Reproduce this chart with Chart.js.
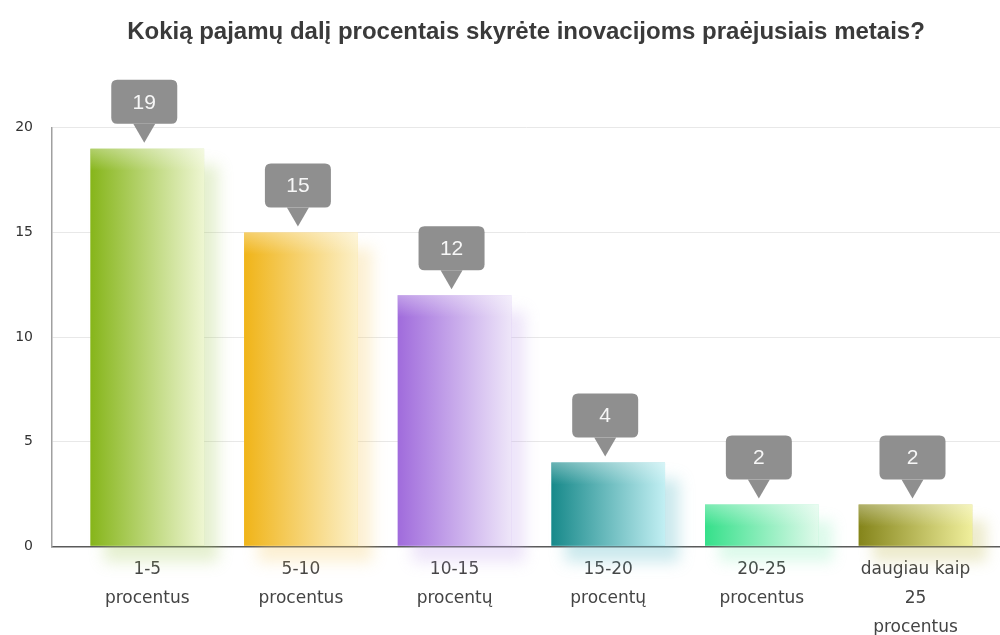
<!DOCTYPE html>
<html>
<head>
<meta charset="utf-8">
<script src="https://cdn.jsdelivr.net/npm/chart.js@4.4.1/dist/chart.umd.min.js"></script>
<style>
  body { margin: 0; background: #fff; }
</style>
</head>
<body>
<canvas id="myChart" width="1000" height="635"></canvas>
<script>
const titleText = "Kokią pajamų dalį procentais skyrėte inovacijoms praėjusiais metais?";
const categories = [
    ["1-5", "procentus"],
    ["5-10", "procentus"],
    ["10-15", "procentų"],
    ["15-20", "procentų"],
    ["20-25", "procentus"],
    ["daugiau kaip", "25", "procentus"]
];
const answers = [19, 15, 12, 4, 2, 2];
const yTicks = [0, 5, 10, 15, 20];

// spalvos: tamsi, šviesi, šešėlis
const palette = [
    ["#86b51a", "#eef6d2", "rgba(170,205,100,0.55)"],
    ["#f0b418", "#fcf0c8", "rgba(245,205,110,0.55)"],
    ["#a06bdc", "#eee6f9", "rgba(195,165,235,0.55)"],
    ["#17898a", "#c2eff3", "rgba(110,195,205,0.6)"],
    ["#35e08a", "#e0faeb", "rgba(120,235,175,0.5)"],
    ["#84841a", "#f0ef9c", "rgba(195,190,90,0.55)"]
];

function roundRect(ctx, x, y, w, h, r) {
    ctx.beginPath();
    ctx.moveTo(x + r, y);
    ctx.lineTo(x + w - r, y);
    ctx.quadraticCurveTo(x + w, y, x + w, y + r);
    ctx.lineTo(x + w, y + h - r);
    ctx.quadraticCurveTo(x + w, y + h, x + w - r, y + h);
    ctx.lineTo(x + r, y + h);
    ctx.quadraticCurveTo(x, y + h, x, y + h - r);
    ctx.lineTo(x, y + r);
    ctx.quadraticCurveTo(x, y, x + r, y);
    ctx.closePath();
}

const barFx = {
    id: "barFx",
    beforeDatasetsDraw(chart) {
        const ctx = chart.ctx;
        chart.getDatasetMeta(0).data.forEach((bar, i) => {
            const p = bar.getProps(["x", "y", "base", "width"], true);
            const left = p.x - p.width / 2;
            const g = ctx.createLinearGradient(left, 0, left + p.width, 0);
            g.addColorStop(0, palette[i][0]);
            g.addColorStop(1, palette[i][1]);
            bar.options.backgroundColor = g;

            // šešėlis už stulpelio
            ctx.save();
            ctx.shadowColor = palette[i][2];
            ctx.shadowBlur = 14;
            ctx.shadowOffsetX = 14;
            ctx.shadowOffsetY = 16;
            ctx.fillStyle = palette[i][2];
            ctx.fillRect(left, p.y, p.width, p.base - p.y);
            ctx.restore();
        });
    },
    afterDatasetsDraw(chart) {
        const ctx = chart.ctx;
        chart.getDatasetMeta(0).data.forEach((bar, i) => {
            const p = bar.getProps(["x", "y", "base", "width"], true);
            const left = p.x - p.width / 2;

            // šviesus viršus
            const h = Math.min(22, p.base - p.y);
            const hl = ctx.createLinearGradient(0, p.y, 0, p.y + h);
            hl.addColorStop(0, "rgba(255,255,255,0.35)");
            hl.addColorStop(1, "rgba(255,255,255,0)");
            ctx.fillStyle = hl;
            ctx.fillRect(left, p.y, p.width, h);

            // reikšmės burbulas
            const bw = 66, bh = 44;
            const tip = p.y - 6;
            const boxBottom = tip - 19;
            ctx.fillStyle = "#8f8f8f";
            roundRect(ctx, p.x - 3 - bw / 2, boxBottom - bh, bw, bh, 6);
            ctx.fill();
            ctx.beginPath();
            ctx.moveTo(p.x - 3 - 11, boxBottom);
            ctx.lineTo(p.x - 3 + 11, boxBottom);
            ctx.lineTo(p.x - 3, tip);
            ctx.closePath();
            ctx.fill();

            ctx.fillStyle = "#f7f7f7";
            ctx.font = "21px 'Liberation Sans'";
            ctx.textAlign = "center";
            ctx.textBaseline = "middle";
            ctx.fillText(String(answers[i]), p.x - 3, boxBottom - bh / 2 + 1);
        });
    }
};

const canvas = document.getElementById("myChart");
const ctx = canvas.getContext("2d");

new Chart(ctx, {
    type: "bar",
    data: {
        datasets: [{
            data: answers.map((v, i) => ({ x: i, y: v })),
            backgroundColor: palette.map(c => c[0]),
            borderWidth: 0,
            categoryPercentage: 1,
            barPercentage: 0.74
        }]
    },
    options: {
        responsive: false,
        animation: false,
        layout: {
            padding: { left: 0, right: 0, top: 0, bottom: -16 }
        },
        plugins: {
            legend: { display: false },
            tooltip: { enabled: false },
            title: {
                display: true,
                text: titleText,
                fullSize: false,
                color: "#3a3a3a",
                font: { family: "'Liberation Sans'", size: 24, weight: "bold" },
                padding: { top: 18, bottom: 81 }
            }
        },
        scales: {
            x: {
                type: "linear",
                offset: false,
                min: -0.62,
                max: 5.55,
                z: 1,
                afterBuildTicks: function (scale) {
                    scale.ticks = categories.map((c, i) => ({ value: i }));
                },
                grid: { display: false, drawTicks: false },
                border: { color: "#5a5a5a", width: 1.5 },
                ticks: {
                    autoSkip: false,
                    maxRotation: 0,
                    padding: 9,
                    color: "#444",
                    font: { family: "'DejaVu Sans'", size: 17, lineHeight: 1.7 },
                    callback: function (value) {
                        return categories[value] || "";
                    }
                }
            },
            y: {
                min: 0,
                max: 20,
                afterBuildTicks: function (scale) {
                    scale.ticks = yTicks.map(v => ({ value: v }));
                },
                afterFit: function (scale) {
                    scale.width = 52;
                },
                grid: { color: "#e8e8e8", drawTicks: false },
                border: { color: "#a0a0a0", width: 1.5 },
                ticks: {
                    padding: 19,
                    color: "#333",
                    font: { family: "'DejaVu Sans'", size: 14 }
                }
            }
        }
    },
    plugins: [barFx]
});
</script>
</body>
</html>
